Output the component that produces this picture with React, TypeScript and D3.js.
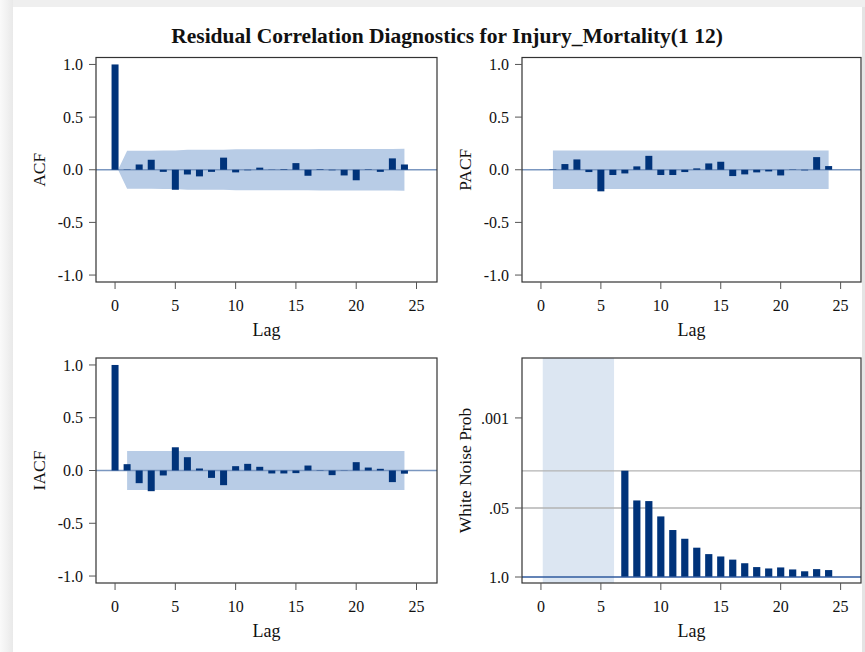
import React from "react";
import * as d3 from "d3";

const TITLE = "Residual Correlation Diagnostics for Injury_Mortality(1 12)";

const lags = [0, 1, 2, 3, 4, 5, 6, 7, 8, 9, 10, 11, 12, 13, 14, 15, 16, 17, 18, 19, 20, 21, 22, 23, 24];

const acfValues = [1.0, 0.003, 0.05, 0.095, -0.02, -0.19, -0.045, -0.063, -0.02, 0.115, -0.025, -0.005, 0.02, 0.002, 0.005, 0.063, -0.057, 0.005, -0.005, -0.054, -0.1, 0.004, -0.02, 0.108, 0.05];
const acfBand = [0, 0.18, 0.18, 0.181, 0.183, 0.183, 0.19, 0.19, 0.191, 0.191, 0.194, 0.194, 0.194, 0.194, 0.194, 0.194, 0.195, 0.196, 0.196, 0.196, 0.196, 0.198, 0.198, 0.198, 0.2];

const pacfLags = [1, 2, 3, 4, 5, 6, 7, 8, 9, 10, 11, 12, 13, 14, 15, 16, 17, 18, 19, 20, 21, 22, 23, 24];
const pacfValues = [0.004, 0.054, 0.098, -0.022, -0.205, -0.05, -0.035, 0.032, 0.132, -0.05, -0.05, -0.022, 0.013, 0.06, 0.076, -0.06, -0.044, -0.025, -0.016, -0.054, 0.003, -0.006, 0.12, 0.035];
const pacfBand = 0.183;

const iacfValues = [1.0, 0.06, -0.12, -0.196, -0.047, 0.22, 0.126, 0.019, -0.07, -0.139, 0.041, 0.063, 0.035, -0.028, -0.028, -0.025, 0.047, 0.003, -0.044, 0.002, 0.079, 0.028, 0.016, -0.11, -0.03];
const iacfBand = 0.184;

const wnLags = [7, 8, 9, 10, 11, 12, 13, 14, 15, 16, 17, 18, 19, 20, 21, 22, 23, 24];
const wnProb = [0.0099, 0.036, 0.037, 0.072, 0.13, 0.19, 0.28, 0.37, 0.41, 0.47, 0.55, 0.65, 0.69, 0.66, 0.72, 0.78, 0.71, 0.74];
const wnShade = [0.15, 6.1];
const wnTicks = [1.0, 0.05, 0.001];
const wnTickLabels = ["1.0", ".05", ".001"];
const wnGrid = [0.01, 0.05];

const corrTicks = [1.0, 0.5, 0.0, -0.5, -1.0];
const corrTickLabels = ["1.0", "0.5", "0.0", "-0.5", "-1.0"];
const lagTicks = [0, 5, 10, 15, 20, 25];

const FONT = "'Liberation Serif', 'Times New Roman', serif";
const BAR = "#00337a";
const BAND = "#b8cce6";
const LIGHTBAND = "#dce6f2";
const ZERO = "#7b97c0";
const FRAME = "#333333";
const TICK = "#555555";

type Box = { left: number; right: number; top: number; bottom: number };

const boxes: Box[] = [
  { left: 96, right: 437, top: 57.5, bottom: 282 },
  { left: 522, right: 861, top: 57.5, bottom: 282 },
  { left: 96, right: 437, top: 358, bottom: 583 },
  { left: 522, right: 861, top: 358, bottom: 583 },
];

function xScale(b: Box) {
  return d3.scaleLinear().domain([-1.58, 26.7]).range([b.left, b.right]);
}

function Frame({ b, yLabel, children, yTicks }: { b: Box; yLabel: string; children: React.ReactNode; yTicks: { y: number; label: string }[] }) {
  const x = xScale(b);
  const midY = (b.top + b.bottom) / 2;
  return (
    <g>
      <defs>
        <clipPath id={"clip" + b.left + "_" + b.top}>
          <rect x={b.left} y={b.top} width={b.right - b.left} height={b.bottom - b.top} />
        </clipPath>
      </defs>
      <g clipPath={`url(#clip${b.left}_${b.top})`}>{children}</g>
      <rect x={b.left} y={b.top} width={b.right - b.left} height={b.bottom - b.top} fill="none" stroke={FRAME} strokeWidth={1.2} />
      {yTicks.map((t, i) => (
        <g key={i}>
          <line x1={b.left - 7} x2={b.left} y1={t.y} y2={t.y} stroke={TICK} strokeWidth={1} />
          <text x={b.left - 13} y={t.y} dy="0.35em" textAnchor="end" fontSize={16} fontFamily={FONT} fill="#111">{t.label}</text>
        </g>
      ))}
      {lagTicks.map((t) => (
        <g key={t}>
          <line x1={x(t)} x2={x(t)} y1={b.bottom} y2={b.bottom + 7} stroke={TICK} strokeWidth={1} />
          <text x={x(t)} y={b.bottom + 23} dy="0.35em" textAnchor="middle" fontSize={16} fontFamily={FONT} fill="#111">{t}</text>
        </g>
      ))}
      <text x={(b.left + b.right) / 2} y={b.bottom + 48} dy="0.35em" textAnchor="middle" fontSize={18} fontFamily={FONT} fill="#111">Lag</text>
      <text transform={`translate(${b.left - 57},${midY}) rotate(-90)`} dy="0.35em" textAnchor="middle" fontSize={17.5} fontFamily={FONT} fill="#111">{yLabel}</text>
    </g>
  );
}

function corrY(b: Box) {
  return d3.scaleLinear().domain([-1.066, 1.066]).range([b.bottom, b.top]);
}

function CorrPanel({ b, label, xs, vals, bandLo, bandHi, band }: { b: Box; label: string; xs: number[]; vals: number[]; bandLo: number[]; bandHi: number[]; band: number[] }) {
  const x = xScale(b);
  const y = corrY(b);
  const area = d3
    .area<number>()
    .x((_, i) => x(bandLo[i]))
    .y0((_, i) => y(-band[i]))
    .y1((_, i) => y(band[i]));
  const bw = 7;
  return (
    <Frame b={b} yLabel={label} yTicks={corrTicks.map((t, i) => ({ y: y(t), label: corrTickLabels[i] }))}>
      <path d={area(bandHi) || ""} fill={BAND} />
      <line x1={b.left} x2={b.right} y1={y(0)} y2={y(0)} stroke={ZERO} strokeWidth={1.3} />
      {xs.map((l, i) => {
        const v = vals[i];
        return <rect key={l} x={x(l) - bw / 2} width={bw} y={Math.min(y(v), y(0))} height={Math.abs(y(v) - y(0))} fill={BAR} />;
      })}
    </Frame>
  );
}

export default function App() {
  const [b1, b2, b3, b4] = boxes;
  const x4 = xScale(b4);
  const y4 = d3.scaleLinear().domain([-0.113, 4.13]).range([b4.bottom, b4.top]);
  const nl = (p: number) => -Math.log10(p);
  const acfBandX = [0.25, ...lags.slice(1)];
  const pacfBandArr = pacfLags.map(() => pacfBand);
  const iacfBandLags = pacfLags;
  const iacfBandArr = pacfLags.map(() => iacfBand);
  return (
    <svg width={865} height={652} style={{ position: "absolute", left: 0, top: 0 }}>
      <defs>
        <linearGradient id="lshadow" x1="0" x2="1" y1="0" y2="0">
          <stop offset="0" stopColor="#fafafa" />
          <stop offset="1" stopColor="#e9e9e9" />
        </linearGradient>
      </defs>
      <rect x={0} y={0} width={865} height={652} fill="#ffffff" />
      <rect x={0} y={0} width={865} height={7} fill="#efefef" />
      <rect x={0} y={0} width={13} height={652} fill="url(#lshadow)" />
      <rect x={862} y={7} width={3} height={645} fill="#e4e4e4" />
      <text x={447} y={35} dy="0.35em" textAnchor="middle" fontSize={21.5} fontWeight="bold" fontFamily={FONT} fill="#111">{TITLE}</text>

      <CorrPanel b={b1} label="ACF" xs={lags} vals={acfValues} bandLo={acfBandX} bandHi={lags} band={acfBand} />
      <CorrPanel b={b2} label="PACF" xs={pacfLags} vals={pacfValues} bandLo={pacfLags} bandHi={pacfLags} band={pacfBandArr} />
      <CorrPanel b={b3} label="IACF" xs={lags} vals={iacfValues} bandLo={iacfBandLags} bandHi={iacfBandLags} band={iacfBandArr} />

      <Frame b={b4} yLabel="White Noise Prob" yTicks={wnTicks.map((t, i) => ({ y: y4(nl(t)), label: wnTickLabels[i] }))}>
        <rect x={x4(wnShade[0])} width={x4(wnShade[1]) - x4(wnShade[0])} y={b4.top} height={b4.bottom - b4.top} fill={LIGHTBAND} />
        {wnGrid.map((g) => (
          <line key={g} x1={b4.left} x2={b4.right} y1={y4(nl(g))} y2={y4(nl(g))} stroke="#b3b3b3" strokeWidth={1.3} />
        ))}
        {wnLags.map((l, i) => (
          <rect key={l} x={x4(l) - 3.6} width={7.2} y={y4(nl(wnProb[i]))} height={y4(0) - y4(nl(wnProb[i]))} fill={BAR} />
        ))}
        <line x1={b4.left} x2={b4.right} y1={y4(0)} y2={y4(0)} stroke="#2f5a9e" strokeWidth={1.3} />
      </Frame>
    </svg>
  );
}
